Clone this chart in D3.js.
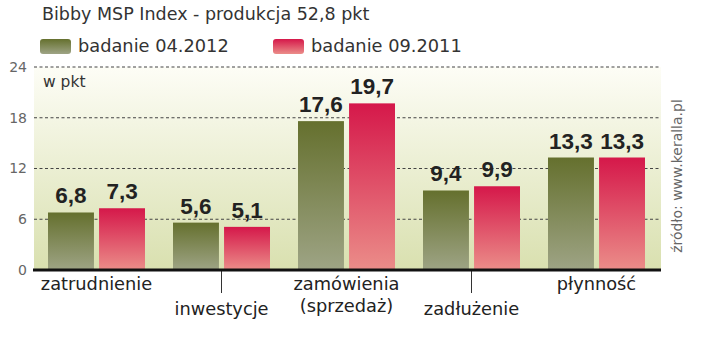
<!DOCTYPE html>
<html lang="pl">
<head>
<meta charset="UTF-8">
<title>Bibby MSP Index</title>
<script src="https://d3js.org/d3.v7.min.js"></script>
<style>
  body { margin: 0; background: #fff; }
  svg text { font-family: "DejaVu Sans", "Liberation Sans", Arial, sans-serif; }
  svg text.val { font-family: "Liberation Sans", Arial, sans-serif; }
</style>
</head>
<body>
<div id="chart"></div>
<script>
  const width = 720, height = 362;

  // data
  const categories = ["zatrudnienie", "inwestycje", "zamówienia|(sprzedaż)", "zadłużenie", "płynność"];
  const series = ["badanie 04.2012", "badanie 09.2011"];
  const values2012 = [6.8, 5.6, 17.6, 9.4, 13.3];
  const values2011 = [7.3, 5.1, 19.7, 9.9, 13.3];
  const yTicks = [0, 6, 12, 18, 24];
  const lowered = [false, true, false, true, false];

  const rows = categories.map((c, i) => ({ cat: c, vals: [values2012[i], values2011[i]], low: lowered[i] }));

  const svg = d3.select("#chart").append("svg")
    .attr("width", width)
    .attr("height", height);

  const defs = svg.append("defs");
  function vgrad(id, top, bottom) {
    const g = defs.append("linearGradient").attr("id", id)
      .attr("x1", 0).attr("y1", 0).attr("x2", 0).attr("y2", 1);
    g.append("stop").attr("offset", "0%").attr("stop-color", top);
    g.append("stop").attr("offset", "100%").attr("stop-color", bottom);
  }
  vgrad("bg", "#fdfdf6", "#d9e0af");
  vgrad("g0", "#65702e", "#9ea485");
  vgrad("g1", "#d5184a", "#eb8d89");

  const left = 34, right = 659;
  const x0 = d3.scaleBand().domain(categories).range([left, right]);
  const x1 = d3.scaleBand().domain(series).range([14, 111]).paddingInner(0.1);
  const y = d3.scaleLinear().domain([0, 24]).range([270, 67]);

  // plot background
  svg.append("rect")
    .attr("x", left).attr("y", y(24))
    .attr("width", right + 2 - left).attr("height", y(0) - y(24))
    .attr("fill", "url(#bg)");

  // title
  svg.append("text")
    .attr("x", 42).attr("y", 20)
    .attr("font-size", 17.5)
    .attr("fill", "#333")
    .text("Bibby MSP Index - produkcja 52,8 pkt");

  // legend
  const legend = svg.append("g");
  const legX = [40, 273];
  series.forEach((s, i) => {
    legend.append("rect")
      .attr("x", legX[i]).attr("y", 39)
      .attr("width", 31).attr("height", 15)
      .attr("rx", 3)
      .attr("fill", "url(#g" + i + ")");
    legend.append("text")
      .attr("x", legX[i] + 38).attr("y", 52)
      .attr("font-size", 17.8)
      .attr("fill", "#333")
      .text(s);
  });

  // grid lines
  svg.append("g")
    .selectAll("line")
    .data(yTicks.filter(d => d > 0))
    .enter().append("line")
    .attr("x1", left).attr("x2", right)
    .attr("y1", d => y(d)).attr("y2", d => y(d))
    .attr("stroke", "#444")
    .attr("stroke-width", 1.2)
    .attr("stroke-dasharray", "3,2.5");

  // y axis labels
  const yAxis = svg.append("g")
    .attr("transform", `translate(${left - 7},0)`)
    .call(d3.axisLeft(y).tickValues(yTicks).tickSize(0).tickPadding(0));
  yAxis.select(".domain").remove();
  yAxis.selectAll("text")
    .attr("font-size", 14)
    .attr("fill", "#666")
    .attr("font-family", "DejaVu Sans, Arial, sans-serif");

  svg.append("text")
    .attr("x", 43).attr("y", 87)
    .attr("font-size", 15.5)
    .attr("fill", "#333")
    .text("w pkt");

  // bars
  const group = svg.append("g")
    .selectAll("g")
    .data(rows)
    .enter().append("g")
    .attr("transform", d => `translate(${x0(d.cat)},0)`);

  group.selectAll("rect")
    .data(d => d.vals.map((v, i) => ({ s: series[i], i: i, v: v })))
    .enter().append("rect")
    .attr("x", d => x1(d.s))
    .attr("width", x1.bandwidth())
    .attr("y", d => y(d.v))
    .attr("height", d => y(0) - y(d.v))
    .attr("fill", d => "url(#g" + d.i + ")");

  group.selectAll("text.val")
    .data(d => d.vals.map((v, i) => ({ s: series[i], v: v })))
    .enter().append("text")
    .attr("class", "val")
    .attr("x", d => x1(d.s) + x1.bandwidth() / 2)
    .attr("y", d => y(d.v) - 9)
    .attr("text-anchor", "middle")
    .attr("font-size", 22.5)
    .attr("font-weight", "bold")
    .attr("fill", "#222")
    .text(d => String(d.v.toFixed(1)).replace(".", ","));

  // baseline
  svg.append("line")
    .attr("x1", left - 1).attr("x2", right + 2)
    .attr("y1", y(0)).attr("y2", y(0))
    .attr("stroke", "#111")
    .attr("stroke-width", 3);

  // category labels, every other one lowered with a leader tick
  group.filter(d => d.low).append("line")
    .attr("x1", x0.bandwidth() / 2).attr("x2", x0.bandwidth() / 2)
    .attr("y1", y(0) + 1).attr("y2", 293)
    .attr("stroke", "#333")
    .attr("stroke-width", 1);

  group.each(function (d) {
    const lines = d.cat.split("|");
    const t = d3.select(this).append("text")
      .attr("text-anchor", "middle")
      .attr("font-size", 17.8)
      .attr("fill", "#222");
    lines.forEach((ln, k) => {
      t.append("tspan")
        .attr("x", x0.bandwidth() / 2)
        .attr("y", (d.low ? 315 : 290) + k * 22)
        .text(ln);
    });
  });

  // source
  svg.append("text")
    .attr("transform", "translate(682,176) rotate(-90)")
    .attr("text-anchor", "middle")
    .attr("font-size", 14)
    .attr("fill", "#666")
    .text("źródło: www.keralla.pl");
</script>
</body>
</html>
